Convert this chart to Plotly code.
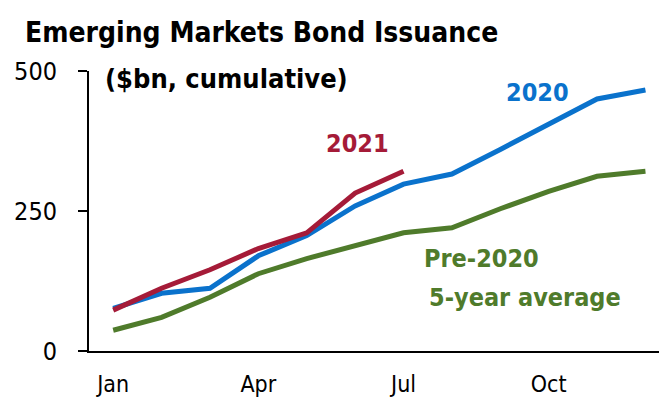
import plotly.graph_objects as go

months = ["Jan", "Feb", "Mar", "Apr", "May", "Jun", "Jul", "Aug", "Sep", "Oct", "Nov", "Dec"]
tick_months = ["Jan", "Apr", "Jul", "Oct"]

issuance_2020 = [76, 103, 112, 170, 206, 259, 298, 316, 360, 404, 450, 466]
issuance_2021 = [73, 112, 145, 183, 211, 282, 321]
pre2020_avg = [37, 60, 96, 138, 165, 188, 211, 220, 254, 285, 312, 321]

BLUE = "#0A72CC"
RED = "#A51B38"
GREEN = "#4F7B2B"
FONT = "DejaVu Sans Condensed, Liberation Sans Narrow, Liberation Sans, sans-serif"

idx = list(range(len(months)))

fig = go.Figure()
fig.add_trace(go.Scatter(x=idx, y=pre2020_avg, mode="lines",
                         line=dict(color=GREEN, width=5), name="Pre-2020 5-year average"))
fig.add_trace(go.Scatter(x=idx, y=issuance_2020, mode="lines",
                         line=dict(color=BLUE, width=5), name="2020"))
fig.add_trace(go.Scatter(x=idx[:len(issuance_2021)], y=issuance_2021, mode="lines",
                         line=dict(color=RED, width=5), name="2021"))

tickvals = [months.index(m) for m in tick_months]

fig.update_layout(
    width=659, height=397,
    margin=dict(l=89, r=0, t=71, b=46),
    paper_bgcolor="white", plot_bgcolor="white",
    showlegend=False,
    font=dict(family=FONT, color="black"),
    xaxis=dict(range=[-0.5, 11.28], tickvals=tickvals, ticktext=tick_months,
               showgrid=False, zeroline=False, showline=True, linecolor="black",
               linewidth=2, ticks="", tickfont=dict(size=23, family=FONT),
               ticklabelstandoff=11, automargin=False),
    yaxis=dict(range=[0, 500], tickvals=[0, 250, 500],
               showgrid=False, zeroline=False, showline=True, linecolor="black",
               linewidth=2, ticks="outside", ticklen=9, tickwidth=2, tickcolor="black",
               tickfont=dict(size=25, family=FONT), ticklabelstandoff=16,
               automargin=False),
)

annotations = [
    dict(text="<b>Emerging Markets Bond Issuance</b>", x=0.302, y=1.136, size=28),
    dict(text="<b>($bn, cumulative)</b>", x=0.242, y=0.975, size=27),
]
for a in annotations:
    fig.add_annotation(text=a["text"], x=a["x"], y=a["y"], xref="paper", yref="paper",
                       showarrow=False, xanchor="center", yanchor="middle",
                       font=dict(family=FONT, size=a["size"], color="black"))

series_labels = [
    ("<b>2021</b>", 5.04, 371, RED),
    ("<b>2020</b>", 8.76, 461, BLUE),
    ("<b>Pre-2020</b>", 7.62, 166, GREEN),
    ("<b>5-year average</b>", 8.51, 96, GREEN),
]
for text, x, y, c in series_labels:
    fig.add_annotation(text=text, x=x, y=y, xref="x", yref="y", showarrow=False,
                       xanchor="center", yanchor="middle",
                       font=dict(family=FONT, size=25, color=c))

fig.write_html("out.html")
